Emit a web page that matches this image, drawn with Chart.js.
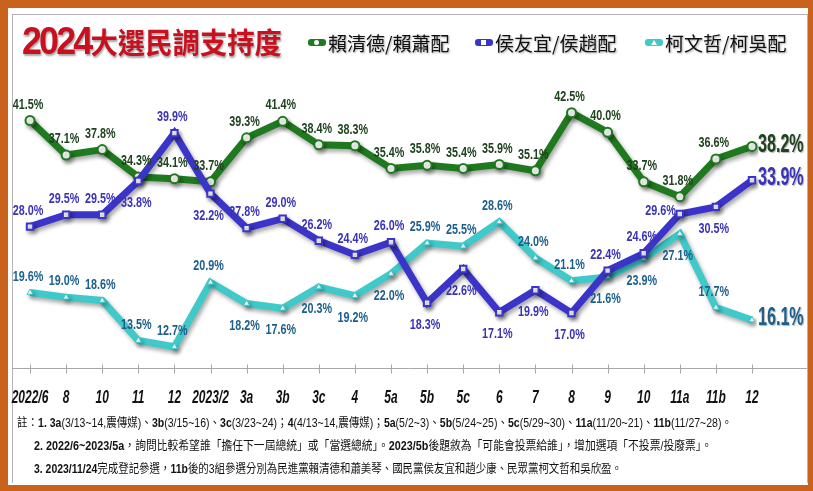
<!DOCTYPE html>
<html>
<head>
<meta charset="utf-8">
<script src="https://cdn.jsdelivr.net/npm/chart.js@4.4.0/dist/chart.umd.min.js"></script>
<style>
body { margin: 0; background: #fff; }
#wrap { position: relative; width: 813px; height: 491px; overflow: hidden; background: #fff; }
#borda { position: absolute; left: 0; top: 0; right: 0; bottom: 0; border: solid #c8621c; border-width: 8px 5px 6px 8px; }
#moldura { position: absolute; left: 12px; top: 14px; width: 794px; height: 468px; border: 1px solid #b5b5b5; border-bottom: none; }
#grafico { position: absolute; left: 0; top: 0; }
#titulo { position: absolute; left: 22px; top: 20px; color: #c8101e; font-family: "Noto Sans CJK TC", sans-serif; font-weight: 700; font-size: 29px; line-height: 42px; text-shadow: 1px 2px 2px rgba(0,0,0,0.35); white-space: nowrap; transform-origin: left center; }
#titulo .num { font-family: "Liberation Sans", sans-serif; font-size: 38px; letter-spacing: -3px; }
.leg { position: absolute; top: 30px; height: 24px; display: flex; align-items: center; font-family: "Noto Sans CJK TC", sans-serif; font-size: 19px; color: #111; text-shadow: 1px 1px 2px rgba(0,0,0,0.35); white-space: nowrap; }
.sw { position: relative; width: 18px; height: 7px; border-radius: 3px; margin-right: 2px; }
.sw i { position: absolute; left: 6px; top: 1px; width: 5px; height: 5px; background: #fff; }
#notas { position: absolute; left: 17px; top: 412px; font-family: "Liberation Sans", "Noto Sans CJK TC", sans-serif; font-size: 12.5px; line-height: 23px; color: #111; white-space: nowrap; }
#notas div { display: block; width: max-content; transform-origin: left center; }
</style>
</head>
<body>
<div id="wrap">
  <div id="borda"></div>
  <div id="moldura"></div>
  <canvas id="grafico" width="813" height="420"></canvas>
  <div id="titulo"><span class="num">2024</span>大選民調支持度</div>
  <div class="leg" style="left:308px"><span class="sw" style="background:#1f7a1f"><i style="border-radius:50%"></i></span>賴清德/賴蕭配</div>
  <div class="leg" style="left:475px"><span class="sw" style="background:#3b34c8"><i></i></span>侯友宜/侯趙配</div>
  <div class="leg" style="left:645px"><span class="sw" style="background:#3fc9c9"><i style="width:0;height:0;background:none;border-left:3px solid transparent;border-right:3px solid transparent;border-bottom:5px solid #fff"></i></span>柯文哲/柯吳配</div>
  <div id="notas">
    <div id="n1">註：<b>1. 3a</b>(3/13~14,震傳媒)、<b>3b</b>(3/15~16)、<b>3c</b>(3/23~24)；<b>4</b>(4/13~14,震傳媒)；<b>5a</b>(5/2~3)、<b>5b</b>(5/24~25)、<b>5c</b>(5/29~30)、<b>11a</b>(11/20~21)、<b>11b</b>(11/27~28)。</div>
    <div id="n2" style="margin-left:17px"><b>2. 2022/6~2023/5a</b>，詢問比較希望誰「擔任下一屆總統」或「當選總統」。<b>2023/5b</b>後題敘為「可能會投票給誰」，增加選項「不投票/投廢票」。</div>
    <div id="n3" style="margin-left:17px"><b>3. 2023/11/24</b>完成登記參選，<b>11b</b>後的3組參選分別為民進黨賴清德和蕭美琴、國民黨侯友宜和趙少康、民眾黨柯文哲和吳欣盈。</div>
  </div>
</div>

<script>
// categorias (meses das pesquisas)
const categorias = ["2022/6", "8", "10", "11", "12", "2023/2", "3a", "3b", "3c", "4", "5a",
    "5b", "5c", "6", "7", "8", "9", "10", "11a", "11b", "12"];

const nomesSeries = ["賴清德/賴蕭配", "侯友宜/侯趙配", "柯文哲/柯吳配"];

const valoresLai = [41.5, 37.1, 37.8, 34.3, 34.1, 33.7, 39.3, 41.4, 38.4, 38.3, 35.4,
    35.8, 35.4, 35.9, 35.1, 42.5, 40.0, 33.7, 31.8, 36.6, 38.2];
const valoresHou = [28.0, 29.5, 29.5, 33.8, 39.9, 32.2, 27.8, 29.0, 26.2, 24.4, 26.0,
    18.3, 22.6, 17.1, 19.9, 17.0, 22.4, 24.6, 29.6, 30.5, 33.9];
const valoresKo = [19.6, 19.0, 18.6, 13.5, 12.7, 20.9, 18.2, 17.6, 20.3, 19.2, 22.0,
    25.9, 25.5, 28.6, 24.0, 21.1, 21.6, 23.9, 27.1, 17.7, 16.1];

// onde fica o rótulo de cada ponto: a = acima, b = abaixo, r = direita, l = esquerda
const posRotulos = [
    ["a","a","a","a","a","a","a","a","a","a","a","a","a","a","a","a","a","a","a","a","r"],
    ["a","a","a","b","a","b","a","a","a","a","a","b","b","b","b","b","a","a","l","b","r"],
    ["a","a","a","a","a","a","b","b","b","b","b","a","a","a","a","a","b","b","b","a","r"]
];
const coresRotulos = ["#1f421f", "#3a33b8", "#1d5f8c"];

// texto "estreito" (não há fonte condensada instalada)
function textoEstreito(ctx, texto, x, y, escala, alinhar) {
    const w = ctx.measureText(texto).width * escala;
    let x0 = x;
    if (alinhar === "center") x0 = x - w / 2;
    if (alinhar === "right") x0 = x - w;
    ctx.save();
    ctx.textAlign = "left";
    ctx.translate(x0, y);
    ctx.scale(escala, 1);
    ctx.fillText(texto, 0, 0);
    ctx.restore();
}

// sombra nas linhas
const sombraPlugin = {
    id: "sombra",
    beforeDatasetDraw(chart) {
        const ctx = chart.ctx;
        ctx.save();
        ctx.shadowColor = "rgba(0,0,0,0.35)";
        ctx.shadowBlur = 4;
        ctx.shadowOffsetX = 2;
        ctx.shadowOffsetY = 3;
    },
    afterDatasetDraw(chart) {
        chart.ctx.restore();
    }
};

// linha do eixo x, marcas e rótulos das categorias
const eixoPlugin = {
    id: "eixo",
    beforeDatasetsDraw(chart) {
        const ctx = chart.ctx;
        const escalaX = chart.scales.x;
        const y = Math.round(chart.chartArea.bottom) + 0.5;
        ctx.save();
        ctx.strokeStyle = "#a8a8a8";
        ctx.lineWidth = 1;
        ctx.beginPath();
        ctx.moveTo(12, y);
        ctx.lineTo(807, y);
        escalaX.ticks.forEach((t, i) => {
            const x = Math.round(escalaX.getPixelForTick(i)) + 0.5;
            ctx.moveTo(x, y - 4);
            ctx.lineTo(x, y + 5);
        });
        ctx.stroke();

        ctx.fillStyle = "#111";
        ctx.textBaseline = "middle";
        ctx.font = "italic bold 19px 'Liberation Sans', sans-serif";
        escalaX.ticks.forEach((t, i) => {
            const x = escalaX.getPixelForTick(i);
            textoEstreito(ctx, escalaX.getLabelForValue(t.value), x, y + 29, 0.63, "center");
        });
        ctx.restore();
    }
};

// rótulos de valor
const rotulosPlugin = {
    id: "rotulos",
    afterDatasetsDraw(chart) {
        const ctx = chart.ctx;
        ctx.save();
        ctx.textBaseline = "middle";
        chart.data.datasets.forEach((ds, i) => {
            const meta = chart.getDatasetMeta(i);
            meta.data.forEach((pt, j) => {
                const pos = posRotulos[i][j];
                const texto = ds.data[j].toFixed(1) + "%";
                ctx.fillStyle = coresRotulos[i];
                if (pos === "r") {
                    ctx.font = "bold 26px 'Liberation Sans', sans-serif";
                    ctx.shadowColor = "rgba(0,0,0,0.3)";
                    ctx.shadowOffsetX = 1;
                    ctx.shadowOffsetY = 1;
                    ctx.shadowBlur = 1;
                    textoEstreito(ctx, texto, pt.x + 6, pt.y - 2, 0.62, "left");
                    ctx.shadowColor = "transparent";
                    return;
                }
                ctx.font = "bold 15px 'Liberation Sans', sans-serif";
                if (pos === "a") {
                    textoEstreito(ctx, texto, pt.x - 2, pt.y - 16, 0.72, "center");
                } else if (pos === "b") {
                    textoEstreito(ctx, texto, pt.x - 2, pt.y + 22, 0.72, "center");
                } else {
                    textoEstreito(ctx, texto, pt.x - 4, pt.y - 3, 0.72, "right");
                }
            });
        });
        ctx.restore();
    }
};

const ctx = document.getElementById("grafico").getContext("2d");

new Chart(ctx, {
    type: "line",
    data: {
        labels: categorias,
        datasets: [
            {
                label: nomesSeries[0],
                data: valoresLai,
                borderColor: "#1f7a1f",
                borderWidth: 7,
                pointStyle: "circle",
                pointRadius: 4.5,
                pointBorderWidth: 2,
                pointBorderColor: "#1f7a1f",
                pointBackgroundColor: "#fff",
                tension: 0,
                order: 3
            },
            {
                label: nomesSeries[1],
                data: valoresHou,
                borderColor: "#3b34c8",
                borderWidth: 7,
                pointStyle: "rect",
                pointRadius: 4.5,
                pointBorderWidth: 2,
                pointBorderColor: "#3b34c8",
                pointBackgroundColor: "#fff",
                tension: 0,
                order: 1
            },
            {
                label: nomesSeries[2],
                data: valoresKo,
                borderColor: "#3fc9c9",
                borderWidth: 7,
                pointStyle: "triangle",
                pointRadius: 3.5,
                pointBorderWidth: 1,
                pointBorderColor: "#3fc9c9",
                pointBackgroundColor: "#fff",
                tension: 0,
                order: 2
            }
        ]
    },
    options: {
        responsive: false,
        animation: false,
        layout: {
            padding: { left: 30, right: 61, top: 93, bottom: 0 }
        },
        plugins: {
            legend: { display: false },
            tooltip: { enabled: false }
        },
        scales: {
            y: {
                display: false,
                min: 10,
                max: 45
            },
            x: {
                afterFit: function (scale) {
                    scale.height = 52;
                },
                border: { display: false },
                grid: { display: false },
                ticks: { display: false, autoSkip: false }
            }
        }
    },
    plugins: [eixoPlugin, sombraPlugin, rotulosPlugin]
});

// ajusta largura do título e das notas à largura do original
function ajustarLargura(el, alvo) {
    const w = el.getBoundingClientRect().width;
    el.style.transform = "scaleX(" + (alvo / w) + ")";
}
ajustarLargura(document.getElementById("titulo"), 260);
ajustarLargura(document.getElementById("n1"), 715);
ajustarLargura(document.getElementById("n2"), 678);
ajustarLargura(document.getElementById("n3"), 588);
</script>
</body>
</html>
